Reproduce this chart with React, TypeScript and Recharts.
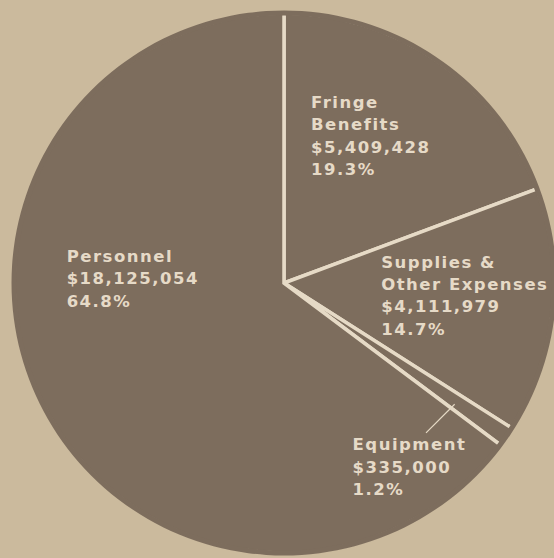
import React from "react";
import { PieChart, Pie, Cell } from "recharts";

const categories = ["Fringe Benefits", "Supplies & Other Expenses", "Equipment", "Personnel"];
const labelLines = [["Fringe", "Benefits"], ["Supplies &", "Other Expenses"], ["Equipment"], ["Personnel"]];
const amounts = [5409428, 4111979, 335000, 18125054];
const percents = ["19.3%", "14.7%", "1.2%", "64.8%"];

const data = categories.map((name, i) => ({ name, value: amounts[i], lines: labelLines[i], pct: percents[i] }));

const BG = "#cbba9d";
const PIE = "#7d6d5d";
const LINE = "#e6dac6";
const TEXT = "#e6dac7";

// label anchors, relative to centre in units of outer radius
const labelAnchor: Record<string, { dx: number; dy: number; leader?: number[] }> = {
  "Fringe Benefits": { dx: 0.1, dy: -0.648 },
  "Supplies & Other Expenses": { dx: 0.36, dy: -0.056 },
  Equipment: { dx: 0.254, dy: 0.62, leader: [0.526, 0.555, 0.632, 0.449] },
  Personnel: { dx: -0.805, dy: -0.078 },
};

const renderLabel = (props: any) => {
  const { cx, cy, outerRadius, payload } = props;
  const p = payload && payload.payload ? payload.payload : payload;
  const name = p?.name ?? props.name;
  const a = labelAnchor[name];
  if (!a) return null;
  const x = cx + a.dx * outerRadius;
  const y0 = cy + a.dy * outerRadius;
  const lines = [...(p.lines as string[]), "$" + Number(p.value).toLocaleString("en-US"), p.pct];
  return (
    <g>
      {a.leader && (
        <line
          x1={cx + a.leader[0] * outerRadius}
          y1={cy + a.leader[1] * outerRadius}
          x2={cx + a.leader[2] * outerRadius}
          y2={cy + a.leader[3] * outerRadius}
          stroke={LINE}
          strokeWidth={1.2}
        />
      )}
      {lines.map((t, i) => (
        <text
          key={i}
          x={x}
          y={y0 + i * 22.3}
          fill={TEXT}
          fontFamily="DejaVu Sans"
          fontWeight="bold"
          fontSize={16.5}
          letterSpacing={1.5}
          textAnchor="start"
        >
          {t}
        </text>
      ))}
    </g>
  );
};

export default function App() {
  return (
    <div style={{ position: "absolute", left: 0, top: 0, width: 554, height: 558, background: BG, overflow: "hidden" }}>
      <PieChart width={554} height={558} margin={{ top: 0, right: 0, bottom: 0, left: 0 }}>
        <Pie
          data={data}
          dataKey="value"
          nameKey="name"
          cx={284}
          cy={283}
          outerRadius={270}
          startAngle={90}
          endAngle={-270}
          stroke={LINE}
          strokeWidth={3.5}
          isAnimationActive={false}
          label={renderLabel}
          labelLine={false}
        >
          {data.map((d) => (
            <Cell key={d.name} fill={PIE} />
          ))}
        </Pie>
        <Pie
          data={[{ name: "rim", value: 1 }]}
          dataKey="value"
          cx={284}
          cy={283}
          innerRadius={267.5}
          outerRadius={272.5}
          startAngle={90}
          endAngle={-270}
          stroke="none"
          fill={PIE}
          isAnimationActive={false}
        />
      </PieChart>
    </div>
  );
}
